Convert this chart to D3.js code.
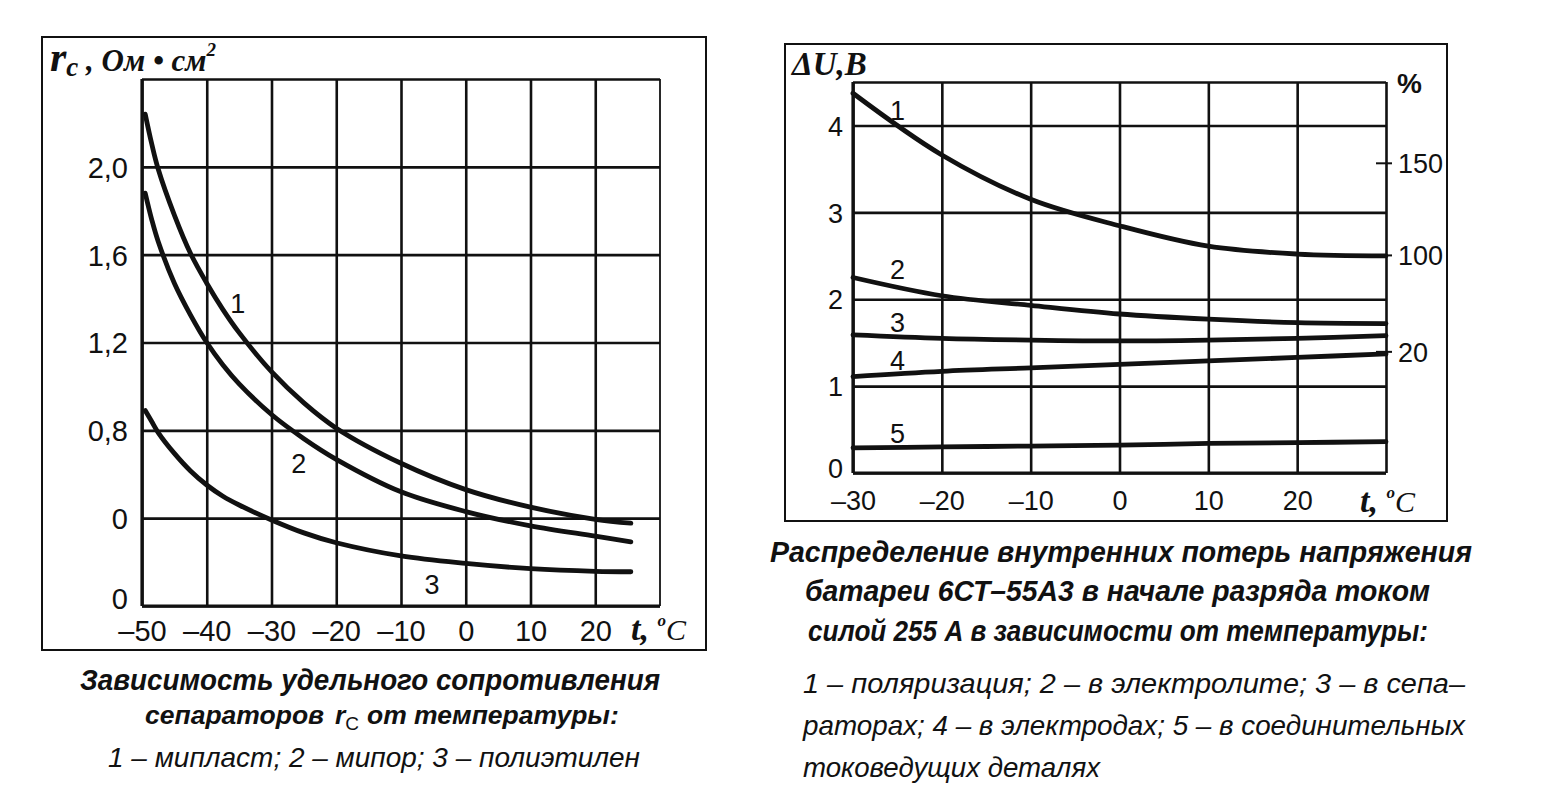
<!DOCTYPE html>
<html>
<head>
<meta charset="utf-8">
<script src="https://cdn.jsdelivr.net/npm/d3@7"></script>
<style>
  html, body { margin: 0; padding: 0; background: #fff; }
  svg { display: block; }
  .tick text { font-family: "Liberation Sans", Arial, sans-serif; fill: #111; }
</style>
</head>
<body>
<div id="chart"></div>
<script>
// ---- left chart: separator resistance vs temperature ----
const tempL = [-49.5, -48.5, -47.5, -45, -42.5, -40, -37.5, -35, -30, -25, -20, -10, 0, 10, 20, 25.5];
const miplast = [2.24, 2.105, 1.99, 1.78, 1.605, 1.47, 1.35, 1.245, 1.067, 0.925, 0.81, 0.65, 0.53, 0.45, 0.395, 0.377];
const mipor = [1.88, 1.76, 1.66, 1.47, 1.325, 1.20, 1.098, 1.012, 0.872, 0.762, 0.668, 0.52, 0.43, 0.365, 0.318, 0.292];
const polyethylene = [0.89, 0.84, 0.79, 0.695, 0.615, 0.551, 0.50, 0.46, 0.392, 0.333, 0.288, 0.228, 0.194, 0.17, 0.158, 0.156];
const xTicksL = [-50, -40, -30, -20, -10, 0, 10, 20];
const yTicksL = [0, 0.4, 0.8, 1.2, 1.6, 2.0];
const yLabelsL = ['0', '0', '0,8', '1,2', '1,6', '2,0'];
const curveNamesL = ['1', '2', '3'];
const curveLabelAtL = [[-35.2, 1.38], [-25.8, 0.65], [-5.2, 0.1]];

// ---- right chart: internal voltage losses vs temperature ----
const tempR = [-30, -20, -10, 0, 10, 20, 30];
const polarization = [4.37, 3.66, 3.15, 2.845, 2.61, 2.52, 2.50];
const electrolyte = [2.25, 2.04, 1.93, 1.83, 1.77, 1.73, 1.72];
const separators = [1.59, 1.55, 1.53, 1.52, 1.53, 1.55, 1.58];
const electrodes = [1.11, 1.17, 1.21, 1.25, 1.29, 1.33, 1.37];
const connectors = [0.29, 0.30, 0.31, 0.32, 0.34, 0.35, 0.36];
const xTicksR = [-30, -20, -10, 0, 10, 20];
const yTicksR = [0, 1, 2, 3, 4];
const pctLabels = ['150', '100', '20'];
const pctAtVolts = [3.57, 2.51, 1.40];
const curveNamesR = ['1', '2', '3', '4', '5'];
const curveLabelAtR = [[-25, 4.17], [-25, 2.35], [-25, 1.74], [-25, 1.30], [-25, 0.46]];

const W = 1552, H = 804;
const ink = '#111';
const svg = d3.select('#chart').append('svg')
  .attr('width', W).attr('height', H)
  .style('background', '#fff');

const fmtT = d => d < 0 ? '\u2013' + Math.abs(d) : String(d);
const serif = '"Liberation Serif", "DejaVu Serif", serif';
const sans = '"Liberation Sans", Arial, sans-serif';
const narrow = '"Liberation Sans Narrow", "Liberation Sans", Arial, sans-serif';

function frame(x0, y0, x1, y1) {
  svg.append('rect')
    .attr('x', x0).attr('y', y0)
    .attr('width', x1 - x0).attr('height', y1 - y0)
    .attr('fill', 'none').attr('stroke', ink).attr('stroke-width', 2);
}

function styleAxis(g, size) {
  g.select('.domain').remove();
  g.selectAll('.tick line').attr('stroke', ink).attr('stroke-width', 2.6);
  g.selectAll('.tick text').style('font-size', size + 'px');
}

function drawCurves(g, xs, ys, series) {
  const line = d3.line()
    .x(d => xs(d[0]))
    .y(d => ys(d[1]))
    .curve(d3.curveCatmullRom.alpha(0.5));
  g.selectAll('path.curve')
    .data(series)
    .enter().append('path')
    .attr('class', 'curve')
    .attr('d', line)
    .attr('fill', 'none')
    .attr('stroke', ink)
    .attr('stroke-width', 4.8)
    .attr('stroke-linecap', 'round');
}

function tempLabel(g, x, y) {
  const t = g.append('text').attr('x', x).attr('y', y)
    .style('font-family', serif).style('font-weight', 'bold').style('font-style', 'italic').attr('fill', ink);
  t.append('tspan').style('font-size', '34px').text('t, ');
  t.append('tspan').style('font-size', '17px').attr('dy', -14).text('o');
  t.append('tspan').style('font-size', '30px').attr('dy', 14).style('font-weight', 'normal').text('C');
}

// ================= LEFT =================
frame(42, 37, 706, 650);
const xL = d3.scaleLinear().domain([-50, 30]).range([142, 660]);
const yL = d3.scaleLinear().domain([0, 2.4]).range([606, 79]);
const left = svg.append('g');

left.append('g')
  .attr('transform', `translate(0,${yL(0)})`)
  .call(d3.axisBottom(xL).tickValues(xTicksL).tickFormat(fmtT)
    .tickSize(-(yL(0) - yL(2.4))).tickPadding(14))
  .call(g => styleAxis(g, 29));

left.append('g')
  .attr('transform', `translate(${xL(-50)},0)`)
  .call(d3.axisLeft(yL).tickValues(yTicksL.concat([2.4])).tickFormat((d, i) => yLabelsL[i] || '')
    .tickSize(-(xL(30) - xL(-50))).tickPadding(14))
  .call(g => styleAxis(g, 29))
  .call(g => g.selectAll('.tick text').attr('dy', d => d === 0 ? '0.1em' : '0.36em'));

// borders of the grid
left.append('line').attr('x1', xL(-50)).attr('x2', xL(-50)).attr('y1', yL(2.4)).attr('y2', yL(0))
  .attr('stroke', ink).attr('stroke-width', 3.2);
left.append('line').attr('x1', xL(30)).attr('x2', xL(30)).attr('y1', yL(2.4)).attr('y2', yL(0))
  .attr('stroke', ink).attr('stroke-width', 1.8);
left.append('line').attr('x1', xL(-50)).attr('x2', xL(30)).attr('y1', yL(0)).attr('y2', yL(0))
  .attr('stroke', ink).attr('stroke-width', 3.2);

drawCurves(left, xL, yL, [miplast, mipor, polyethylene].map(s => s.map((v, i) => [tempL[i], v])));

left.selectAll('text.cname').data(curveNamesL).enter().append('text')
  .attr('class', 'cname')
  .attr('x', (d, i) => xL(curveLabelAtL[i][0]))
  .attr('y', (d, i) => yL(curveLabelAtL[i][1]))
  .attr('dy', '0.36em').attr('text-anchor', 'middle')
  .style('font-family', sans).style('font-size', '27px').attr('fill', ink)
  .text(d => d);

// axis titles
const tl = left.append('text').attr('x', 50).attr('y', 71)
  .style('font-family', serif).style('font-weight', 'bold').style('font-style', 'italic').attr('fill', ink);
tl.append('tspan').style('font-size', '42px').text('r');
tl.append('tspan').style('font-size', '27px').attr('dy', 5).text('c');
tl.append('tspan').style('font-size', '31px').attr('dy', -5).text(' , Ом • см');
tl.append('tspan').style('font-size', '19px').attr('dy', -15).text('2');

tempLabel(left, 631, 640);

// caption
const capL = svg.append('g').attr('fill', ink)
  .style('font-family', narrow).style('font-style', 'italic');
capL.append('text').attr('x', 80).attr('y', 690).attr('textLength', 580).attr('lengthAdjust', 'spacingAndGlyphs')
  .style('font-size', '29px').style('font-weight', 'bold')
  .text('Зависимость удельного сопротивления');
capL.append('text').attr('x', 145).attr('y', 724)
  .style('font-size', '26.5px').style('font-weight', 'bold')
  .text('сепараторов');
const rc = capL.append('text').attr('x', 335).attr('y', 724)
  .style('font-size', '26.5px').style('font-weight', 'bold');
rc.append('tspan').text('r');
rc.append('tspan').attr('dy', 6).style('font-size', '19px').style('font-weight', 'normal').style('font-style', 'normal').text('C');
capL.append('text').attr('x', 367).attr('y', 724)
  .style('font-size', '26.5px').style('font-weight', 'bold')
  .text('от температуры:');
capL.append('text').attr('x', 108).attr('y', 767).attr('textLength', 532).attr('lengthAdjust', 'spacingAndGlyphs')
  .style('font-size', '28px')
  .text('1 – мипласт; 2 – мипор; 3 – полиэтилен');

// ================= RIGHT =================
frame(785, 44, 1447, 521);
const xR = d3.scaleLinear().domain([-30, 30]).range([853, 1386]);
const yR = d3.scaleLinear().domain([0, 4.5]).range([473, 82]);
const right = svg.append('g');

right.append('g')
  .attr('transform', `translate(0,${yR(0)})`)
  .call(d3.axisBottom(xR).tickValues(xTicksR.concat([30])).tickFormat(d => d === 30 ? '' : fmtT(d))
    .tickSize(-(yR(0) - yR(4.5))).tickPadding(18))
  .call(g => styleAxis(g, 27));

right.append('g')
  .attr('transform', `translate(${xR(-30)},0)`)
  .call(d3.axisLeft(yR).tickValues(yTicksR.concat([4.5])).tickFormat(d => d === 4.5 ? '' : String(d))
    .tickSize(-(xR(30) - xR(-30))).tickPadding(10))
  .call(g => styleAxis(g, 27))
  .call(g => g.selectAll('.tick text').attr('dy', d => d === 0 ? '0.15em' : '0.36em'));

right.append('line').attr('x1', xR(-30)).attr('x2', xR(-30)).attr('y1', yR(4.5)).attr('y2', yR(0))
  .attr('stroke', ink).attr('stroke-width', 3.2);
right.append('line').attr('x1', xR(-30)).attr('x2', xR(30)).attr('y1', yR(0)).attr('y2', yR(0))
  .attr('stroke', ink).attr('stroke-width', 3.2);

// percent axis on the right
const pct = right.append('g').attr('transform', `translate(${xR(30)},0)`);
pct.call(d3.axisRight(yR).tickValues(pctAtVolts).tickFormat((d, i) => pctLabels[i]).tickSize(0).tickPadding(12))
  .call(g => styleAxis(g, 27))
  .call(g => g.selectAll('.tick text').attr('dy', '0.36em'));
pct.selectAll('.tick').append('line')
  .attr('x1', -10).attr('x2', 6).attr('y1', 0).attr('y2', 0)
  .attr('stroke', ink).attr('stroke-width', 2);

drawCurves(right, xR, yR,
  [polarization, electrolyte, separators, electrodes, connectors].map(s => s.map((v, i) => [tempR[i], v])));

right.selectAll('text.cname').data(curveNamesR).enter().append('text')
  .attr('class', 'cname')
  .attr('x', (d, i) => xR(curveLabelAtR[i][0]))
  .attr('y', (d, i) => yR(curveLabelAtR[i][1]))
  .attr('dy', '0.36em').attr('text-anchor', 'middle')
  .style('font-family', sans).style('font-size', '27px').attr('fill', ink)
  .text(d => d);

right.append('text').attr('x', 792).attr('y', 75)
  .style('font-family', serif).style('font-weight', 'bold').style('font-style', 'italic')
  .style('font-size', '33px').attr('fill', ink).text('ΔU,B');
right.append('text').attr('x', 1397).attr('y', 93)
  .style('font-family', sans).style('font-weight', 'bold')
  .style('font-size', '28px').attr('fill', ink).text('%');

tempLabel(right, 1360, 512);

const capR = svg.append('g').attr('fill', ink);
const boldLines = [
  ['Распределение внутренних потерь напряжения', 770, 562, 702],
  ['батареи 6СТ–55А3 в начале разряда током', 805, 601, 625],
  ['силой 255 А в зависимости от температуры:', 808, 641, 620]
];
capR.selectAll('text.b').data(boldLines).enter().append('text')
  .attr('class', 'b')
  .attr('x', d => d[1]).attr('y', d => d[2])
  .attr('textLength', d => d[3]).attr('lengthAdjust', 'spacingAndGlyphs')
  .style('font-family', narrow).style('font-size', '29px').style('font-weight', 'bold').style('font-style', 'italic')
  .text(d => d[0]);
const italicLines = [
  ['1 – поляризация; 2 – в электролите; 3 – в сепа–', 803, 693, 662],
  ['раторах; 4 – в электродах; 5 – в соединительных', 803, 735, 662],
  ['токоведущих деталях', 803, 777, 297]
];
capR.selectAll('text.i').data(italicLines).enter().append('text')
  .attr('class', 'i')
  .attr('x', d => d[1]).attr('y', d => d[2])
  .attr('textLength', d => d[3]).attr('lengthAdjust', 'spacingAndGlyphs')
  .style('font-family', narrow).style('font-size', '28px').style('font-style', 'italic')
  .text(d => d[0]);
</script>
</body>
</html>
